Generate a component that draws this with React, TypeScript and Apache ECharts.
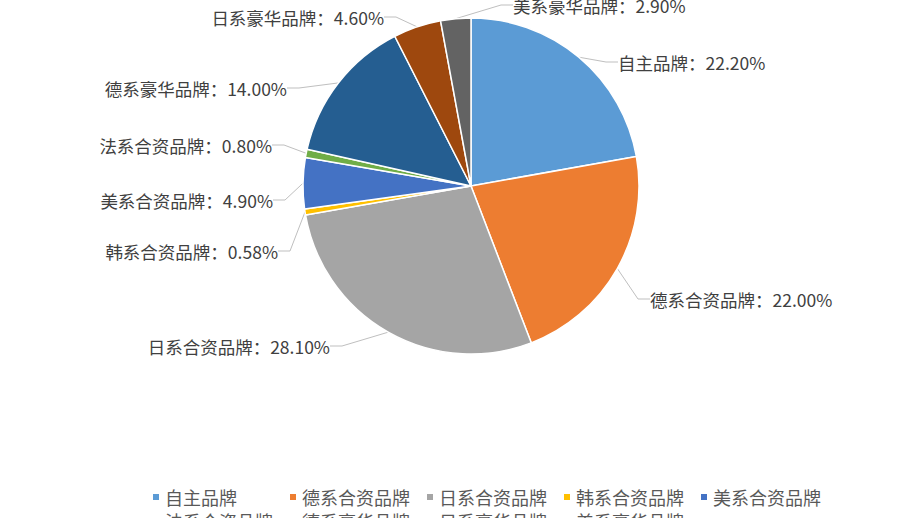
import { useEffect, useRef } from "react";
import * as echarts from "echarts";

const brands = [
  "自主品牌",
  "德系合资品牌",
  "日系合资品牌",
  "韩系合资品牌",
  "美系合资品牌",
  "法系合资品牌",
  "德系豪华品牌",
  "日系豪华品牌",
  "美系豪华品牌",
];
const shares = [22.2, 22.0, 28.1, 0.58, 4.9, 0.8, 14.0, 4.6, 2.9];
const colors = [
  "#5B9BD5",
  "#ED7D31",
  "#A5A5A5",
  "#FFC000",
  "#4472C4",
  "#70AD47",
  "#255E91",
  "#9E480E",
  "#636363",
];

// where Excel put each data label (text edge nearest the pie): [x, y, align]
const labelSpots: [number, number, "left" | "right"][] = [
  [618, 62, "left"],
  [650, 299, "left"],
  [330, 346, "right"],
  [278, 251, "right"],
  [273, 200, "right"],
  [272, 145, "right"],
  [287, 88, "right"],
  [384, 17, "right"],
  [513, 5, "left"],
];
const LABEL_PAD = 6;

const FONT = '"Noto Sans CJK SC", "Noto Sans", sans-serif';

export default function App() {
  const ref = useRef<HTMLDivElement>(null);

  useEffect(() => {
    document.body.style.margin = "0";
    if (!ref.current) return;
    const chart = echarts.init(ref.current, undefined, { renderer: "svg" });
    chart.setOption({
      animation: false,
      backgroundColor: "#fff",
      color: colors,
      textStyle: { fontFamily: FONT },
      legend: {
        left: 146,
        top: 483,
        width: 700,
        orient: "horizontal",
        itemWidth: 8,
        itemHeight: 8,
        itemGap: 6,
        icon: "rect",
        textStyle: {
          color: "#595959",
          fontSize: 18,
          width: 117,
          lineHeight: 18,
          fontFamily: FONT,
        },
        data: brands,
      },
      series: [
        {
          type: "pie",
          center: [471, 186],
          radius: 168,
          startAngle: 90,
          clockwise: true,
          avoidLabelOverlap: false,
          itemStyle: { borderColor: "#fff", borderWidth: 1.5 },
          label: {
            show: true,
            position: "outside",
            color: "#404040",
            fontSize: 17.5,
            fontFamily: FONT,
            padding: [0, LABEL_PAD],
            formatter: (p: any) => `${p.name}：${p.value.toFixed(2)}%`,
          },
          labelLine: {
            show: true,
            length: 12,
            length2: 12,
            lineStyle: { color: "#BFBFBF", width: 1 },
          },
          labelLayout: (p: any) => {
            const s = labelSpots[p.dataIndex];
            return {
              x: s[2] === "left" ? s[0] - LABEL_PAD : s[0] + LABEL_PAD,
              y: s[1],
              align: s[2],
              verticalAlign: "middle",
            };
          },
          emphasis: { disabled: true },
          data: brands.map((name, i) => ({ name, value: shares[i] })),
        },
      ],
    });
    return () => chart.dispose();
  }, []);

  return <div ref={ref} style={{ width: 921, height: 518 }} />;
}
